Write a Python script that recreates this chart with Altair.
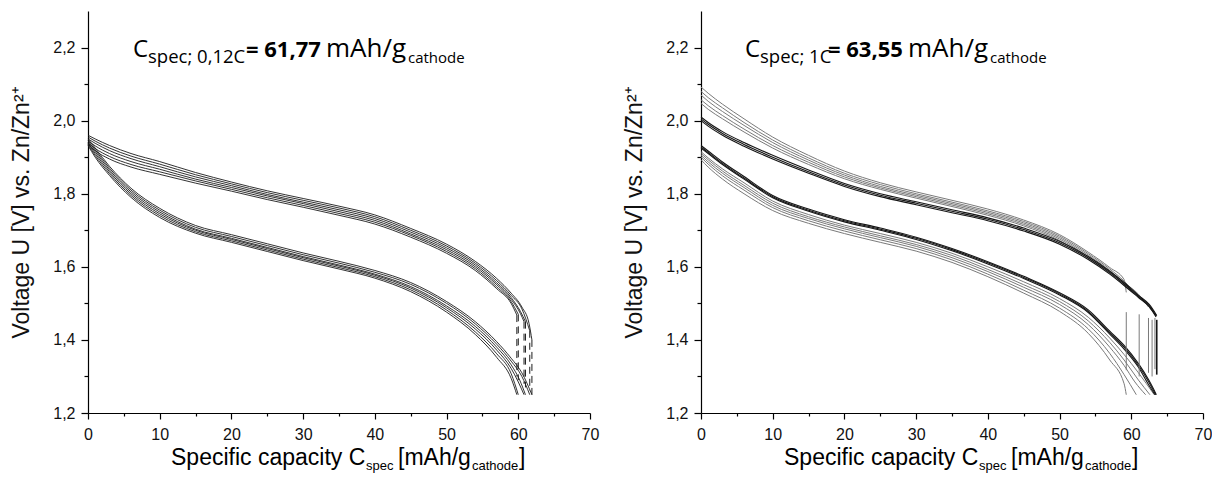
import altair as alt
import pandas as pd

# ---------------- data ----------------
X_GRID = [0, 1, 3, 6, 10, 15, 20, 25, 30, 35, 40, 45, 50, 54, 57, 59]

# Left panel (0,12C): upper branch
L_UP1 = [1.960, 1.950, 1.932, 1.910, 1.888, 1.858, 1.832, 1.808, 1.787, 1.766, 1.742, 1.705, 1.662, 1.615, 1.568, 1.528]
L_UP2 = [1.955, 1.944, 1.925, 1.903, 1.881, 1.852, 1.827, 1.803, 1.782, 1.761, 1.737, 1.700, 1.657, 1.610, 1.562, 1.522]
L_UP3 = [1.950, 1.938, 1.918, 1.896, 1.874, 1.846, 1.822, 1.798, 1.777, 1.756, 1.732, 1.695, 1.652, 1.605, 1.556, 1.516]
L_UP4 = [1.945, 1.931, 1.910, 1.888, 1.867, 1.840, 1.817, 1.794, 1.773, 1.751, 1.727, 1.690, 1.647, 1.600, 1.551, 1.511]
L_UP5 = [1.940, 1.924, 1.902, 1.880, 1.860, 1.835, 1.812, 1.789, 1.768, 1.746, 1.722, 1.686, 1.642, 1.595, 1.545, 1.505]
L_UP6 = [1.936, 1.918, 1.895, 1.873, 1.853, 1.829, 1.807, 1.784, 1.763, 1.741, 1.717, 1.681, 1.637, 1.590, 1.540, 1.500]
L_UP1_END = [[60.5, 1.490], [61.5, 1.445], [61.9, 1.400]]
L_UP2_END = [[60.5, 1.485], [61.6, 1.425]]
L_UP3_END = [[60.3, 1.478], [61.0, 1.450]]
L_UP4_END = [[60.3, 1.472], [60.8, 1.450]]
L_UP5_END = [[60.0, 1.470]]
L_UP6_END = [[59.8, 1.468]]

# Left panel: lower branch
L_LO1 = [1.950, 1.925, 1.875, 1.815, 1.760, 1.713, 1.688, 1.663, 1.638, 1.615, 1.590, 1.557, 1.505, 1.450, 1.395, 1.350]
L_LO2 = [1.945, 1.920, 1.870, 1.810, 1.755, 1.708, 1.683, 1.658, 1.633, 1.610, 1.585, 1.552, 1.500, 1.444, 1.388, 1.342]
L_LO3 = [1.940, 1.915, 1.865, 1.805, 1.750, 1.703, 1.678, 1.653, 1.628, 1.605, 1.580, 1.546, 1.493, 1.437, 1.380, 1.332]
L_LO4 = [1.938, 1.910, 1.860, 1.800, 1.745, 1.700, 1.675, 1.650, 1.625, 1.602, 1.577, 1.542, 1.488, 1.430, 1.372, 1.322]
L_LO5 = [1.935, 1.905, 1.855, 1.795, 1.740, 1.696, 1.671, 1.646, 1.621, 1.598, 1.573, 1.537, 1.482, 1.422, 1.362, 1.308]
L_LO6 = [1.932, 1.900, 1.850, 1.790, 1.735, 1.692, 1.667, 1.642, 1.617, 1.594, 1.569, 1.532, 1.476, 1.415, 1.352, 1.295]
L_LO1_END = [[60.5, 1.310], [61.9, 1.250]]
L_LO2_END = [[60.5, 1.300], [61.6, 1.250]]
L_LO3_END = [[60.2, 1.290], [61.0, 1.250]]
L_LO4_END = [[60.0, 1.285], [60.8, 1.250]]
L_LO5_END = [[60.0, 1.250]]
L_LO6_END = [[59.8, 1.250]]

# Left panel: vertical steps at end of cycles
L_STEP_X = [61.9, 61.6, 61.0, 60.8, 60.0, 59.8]
L_STEP_TOP = [1.400, 1.425, 1.450, 1.450, 1.470, 1.468]
L_STEP_BOT = [1.250, 1.260, 1.270, 1.280, 1.290, 1.300]

# Right panel (1C): upper branch, light grey cycles
R_UPL1 = [2.092, 2.075, 2.045, 2.005, 1.955, 1.905, 1.862, 1.830, 1.805, 1.782, 1.758, 1.728, 1.688, 1.640, 1.598, 1.565]
R_UPL2 = [2.080, 2.063, 2.035, 1.995, 1.947, 1.898, 1.856, 1.825, 1.800, 1.777, 1.753, 1.724, 1.684, 1.636, 1.594, 1.561]
R_UPL3 = [2.070, 2.053, 2.025, 1.987, 1.940, 1.892, 1.851, 1.820, 1.796, 1.773, 1.749, 1.720, 1.680, 1.632, 1.590, 1.557]
R_UPL4 = [2.057, 2.041, 2.014, 1.977, 1.932, 1.886, 1.846, 1.816, 1.792, 1.769, 1.745, 1.716, 1.676, 1.628, 1.586, 1.553]
R_UPL5 = [2.047, 2.031, 2.005, 1.969, 1.925, 1.880, 1.841, 1.812, 1.788, 1.765, 1.741, 1.712, 1.672, 1.624, 1.582, 1.549]
R_UPL1_END = [[59.3, 1.530]]
R_UPL2_END = [[61.1, 1.515]]
R_UPL3_END = [[61.0, 1.525], [62.4, 1.490]]
R_UPL4_END = [[61.0, 1.522], [62.9, 1.480]]
R_UPL5_END = [[61.0, 1.518], [62.5, 1.490], [63.3, 1.470]]
# Right panel: upper branch, dark cycles
R_UPD1 = [2.010, 1.995, 1.970, 1.940, 1.905, 1.865, 1.828, 1.800, 1.778, 1.756, 1.734, 1.706, 1.670, 1.628, 1.588, 1.557]
R_UPD2 = [2.005, 1.990, 1.965, 1.935, 1.900, 1.860, 1.824, 1.796, 1.774, 1.752, 1.730, 1.702, 1.666, 1.624, 1.584, 1.553]
R_UPD3 = [2.000, 1.985, 1.960, 1.930, 1.895, 1.856, 1.820, 1.792, 1.770, 1.748, 1.726, 1.698, 1.662, 1.620, 1.580, 1.549]
R_UPD1_END = [[61.0, 1.522], [62.5, 1.497], [63.55, 1.467]]
R_UPD2_END = [[61.0, 1.519], [62.5, 1.494], [63.5, 1.465]]
R_UPD3_END = [[61.0, 1.516], [62.5, 1.491], [63.45, 1.463]]

# Right panel: lower branch, light grey cycles
R_LOL1 = [1.915, 1.898, 1.868, 1.830, 1.780, 1.743, 1.714, 1.691, 1.667, 1.637, 1.600, 1.559, 1.513, 1.462, 1.405, 1.360]
R_LOL2 = [1.910, 1.893, 1.862, 1.823, 1.774, 1.737, 1.709, 1.685, 1.661, 1.631, 1.593, 1.551, 1.505, 1.452, 1.393, 1.345]
R_LOL3 = [1.905, 1.887, 1.856, 1.817, 1.768, 1.732, 1.704, 1.680, 1.656, 1.625, 1.587, 1.544, 1.497, 1.442, 1.380, 1.330]
R_LOL4 = [1.900, 1.881, 1.849, 1.810, 1.762, 1.726, 1.698, 1.674, 1.650, 1.619, 1.580, 1.536, 1.487, 1.430, 1.363, 1.305]
R_LOL5 = [1.893, 1.873, 1.840, 1.800, 1.754, 1.719, 1.691, 1.667, 1.643, 1.612, 1.573, 1.528, 1.478, 1.418, 1.345, 1.280]
R_LOL1_END = [[61.0, 1.310], [63.2, 1.250]]
R_LOL2_END = [[61.0, 1.290], [62.6, 1.250]]
R_LOL3_END = [[60.5, 1.285], [62.0, 1.250]]
R_LOL4_END = [[60.7, 1.250]]
R_LOL5_END = [[59.3, 1.250]]
# Right panel: lower branch, dark cycles
R_LOD1 = [1.932, 1.917, 1.887, 1.847, 1.795, 1.758, 1.729, 1.706, 1.681, 1.650, 1.614, 1.574, 1.529, 1.482, 1.424, 1.385]
R_LOD2 = [1.928, 1.913, 1.883, 1.843, 1.792, 1.755, 1.726, 1.703, 1.678, 1.647, 1.611, 1.571, 1.526, 1.478, 1.420, 1.380]
R_LOD3 = [1.925, 1.910, 1.880, 1.840, 1.789, 1.752, 1.723, 1.700, 1.675, 1.644, 1.608, 1.568, 1.523, 1.475, 1.416, 1.375]
R_LOD1_END = [[61.0, 1.335], [62.5, 1.288], [63.5, 1.250]]
R_LOD2_END = [[61.0, 1.330], [62.5, 1.283], [63.4, 1.250]]
R_LOD3_END = [[61.0, 1.325], [62.4, 1.278], [63.3, 1.250]]

# Right panel: vertical steps
R_STEP_X = [59.3, 61.1, 62.4, 62.9, 63.3]
R_STEP_TOP = [1.476, 1.470, 1.460, 1.455, 1.460]
R_STEP_BOT = [1.317, 1.300, 1.310, 1.300, 1.320]
R_STEP_DARK_X = [63.55]
R_STEP_DARK_TOP = [1.455]
R_STEP_DARK_BOT = [1.305]

X_TICKS = [0, 5, 10, 15, 20, 25, 30, 35, 40, 45, 50, 55, 60, 65, 70]
Y_TICKS = [1.2, 1.3, 1.4, 1.5, 1.6, 1.7, 1.8, 1.9, 2.0, 2.1, 2.2]

# ---------------- helpers ----------------
def curves_df(curves):
    rows = []
    for cid, ys, tail in curves:
        pts = list(zip(X_GRID, ys)) + [tuple(p) for p in tail]
        for k, (x, y) in enumerate(pts):
            rows.append({"cid": cid, "k": k, "x": x, "y": y})
    return pd.DataFrame(rows)

def steps_df(xs, tops, bots):
    return pd.DataFrame({"x": xs, "y": tops, "y2": bots})

W, H = 502, 402
AX = "Liberation Sans"
AN = "Open Sans"

x_scale = alt.Scale(domain=[0, 70], nice=False, zero=False)
y_scale = alt.Scale(domain=[1.2, 2.3], nice=False, zero=False)

x_axis = alt.Axis(
    values=X_TICKS, title=None, grid=False,
    labelExpr="datum.value % 10 === 0 ? datum.label : ''",
    tickSize={"condition": {"test": "datum.value % 10 === 0", "value": 6}, "value": 3},
    domainColor="black", tickColor="black", domainWidth=1.2, tickWidth=1.2,
    labelFont=AX, labelFontSize=16, labelColor="#111", labelPadding=7,
    labelFlush=False, labelOverlap=False,
)
y_axis = alt.Axis(
    values=Y_TICKS, title="Voltage U [V] vs. Zn/Zn²⁺", grid=False,
    labelExpr="abs(round(datum.value*10)) % 2 === 0 ? replace(format(datum.value, '.1f'), '.', ',') : ''",
    tickSize={"condition": {"test": "abs(round(datum.value*10)) % 2 === 0", "value": 7}, "value": 4},
    domainColor="black", tickColor="black", domainWidth=1.2, tickWidth=1.2,
    labelFont=AX, labelFontSize=16, labelColor="#111", labelPadding=6,
    labelOverlap=False, titleFont=AX, titleFontSize=23, titleFontWeight="normal",
    titleColor="#111", titlePadding=19,
)


def lines(df, color, width, opacity=1.0):
    return alt.Chart(df).mark_line(
        color=color, strokeWidth=width, opacity=opacity, interpolate="monotone"
    ).encode(
        x=alt.X("x:Q", scale=x_scale, axis=x_axis),
        y=alt.Y("y:Q", scale=y_scale, axis=y_axis),
        detail="cid:N",
        order="k:Q",
    )


def steps(df, color, width, dash=None):
    kw = dict(color=color, strokeWidth=width)
    if dash:
        kw["strokeDash"] = dash
    return alt.Chart(df).mark_rule(**kw).encode(
        x=alt.X("x:Q", scale=x_scale, axis=x_axis),
        y=alt.Y("y:Q", scale=y_scale, axis=y_axis),
        y2="y2:Q",
    )


def txt(s, x, y, size, font, weight="normal"):
    return alt.Chart(pd.DataFrame({"t": [s]})).mark_text(
        align="left", baseline="alphabetic", font=font, fontSize=size,
        fontWeight=weight, color="black",
    ).encode(x=alt.value(x), y=alt.value(y), text="t:N")


def x_title():
    return [
        txt("Specific capacity C", 83, 454, 23, AX),
        txt("spec", 278, 459, 13, AX),
        txt("[mAh/g", 310, 454, 23, AX),
        txt("cathode", 384, 459, 13, AX),
        txt("]", 431, 454, 23, AX),
    ]


def note(sub, value, x0, x_eq, x_unit, x_cat):
    return [
        txt("C", x0, 46, 24, AN),
        txt(sub, x0 + 15, 52, 18.5, AN),
        txt(value, x_eq, 46, 22, AN, "bold"),
        txt("mAh/g", x_unit, 46, 26, AN),
        txt("cathode", x_cat, 52, 15, AN),
    ]


# ---------------- left panel ----------------
left_up = curves_df([
    ("u1", L_UP1, L_UP1_END), ("u2", L_UP2, L_UP2_END), ("u3", L_UP3, L_UP3_END),
    ("u4", L_UP4, L_UP4_END), ("u5", L_UP5, L_UP5_END), ("u6", L_UP6, L_UP6_END),
])
left_lo = curves_df([
    ("l1", L_LO1, L_LO1_END), ("l2", L_LO2, L_LO2_END), ("l3", L_LO3, L_LO3_END),
    ("l4", L_LO4, L_LO4_END), ("l5", L_LO5, L_LO5_END), ("l6", L_LO6, L_LO6_END),
])
left = alt.layer(
    lines(left_up, "#1c1c1c", 0.9),
    lines(left_lo, "#1c1c1c", 0.9),
    steps(steps_df(L_STEP_X, L_STEP_TOP, L_STEP_BOT), "#1c1c1c", 1.0, [7, 5]),
    *note("spec; 0,12C", "= 61,77", 45, 158, 238, 320),
    *x_title(),
).properties(width=W, height=H)

# ---------------- right panel ----------------
right_upl = curves_df([
    ("a1", R_UPL1, R_UPL1_END), ("a2", R_UPL2, R_UPL2_END), ("a3", R_UPL3, R_UPL3_END),
    ("a4", R_UPL4, R_UPL4_END), ("a5", R_UPL5, R_UPL5_END),
])
right_upd = curves_df([
    ("b1", R_UPD1, R_UPD1_END), ("b2", R_UPD2, R_UPD2_END), ("b3", R_UPD3, R_UPD3_END),
])
right_lol = curves_df([
    ("c1", R_LOL1, R_LOL1_END), ("c2", R_LOL2, R_LOL2_END), ("c3", R_LOL3, R_LOL3_END),
    ("c4", R_LOL4, R_LOL4_END), ("c5", R_LOL5, R_LOL5_END),
])
right_lod = curves_df([
    ("d1", R_LOD1, R_LOD1_END), ("d2", R_LOD2, R_LOD2_END), ("d3", R_LOD3, R_LOD3_END),
])
right = alt.layer(
    lines(right_upl, "#7a7a7a", 1.0),
    lines(right_lol, "#7a7a7a", 1.0),
    lines(right_upd, "#151515", 1.1),
    lines(right_lod, "#151515", 1.1),
    steps(steps_df(R_STEP_X, R_STEP_TOP, R_STEP_BOT), "#7a7a7a", 1.0),
    steps(steps_df(R_STEP_DARK_X, R_STEP_DARK_TOP, R_STEP_DARK_BOT), "#151515", 1.6),
    *note("spec; 1C", "= 63,55", 44, 127, 207, 289),
    *x_title(),
).properties(width=W, height=H)

chart = alt.hconcat(left, right, spacing=24).properties(
    padding={"left": 2, "top": 3, "right": 0, "bottom": 0}
).configure_view(stroke=None)

chart.save("out.html", embed_options={"renderer": "svg", "actions": False})
